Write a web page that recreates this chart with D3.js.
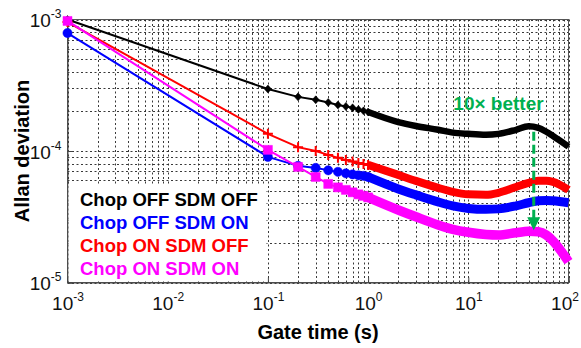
<!DOCTYPE html>
<html>
<head>
<meta charset="utf-8">
<script src="https://cdn.jsdelivr.net/npm/d3@7"></script>
<style>
  body { margin: 0; background: #fff; }
  svg { display: block; font-family: "Liberation Sans", Arial, Helvetica, sans-serif; }
</style>
</head>
<body>
<svg id="chart" width="581" height="348"></svg>
<script>
// gate times (s) and Allan deviation
const tau = [0.001, 0.1, 0.2, 0.3, 0.4, 0.5, 0.6, 0.7, 0.8, 0.9, 1, 2, 3, 5, 7, 10, 15, 20, 30, 40, 50, 60, 70, 100]

const chopOffSdmOff = [1.00e-3, 2.96e-4, 2.58e-4, 2.45e-4, 2.34e-4, 2.24e-4, 2.18e-4, 2.13e-4, 2.07e-4, 2.02e-4, 1.98e-4,
  1.66e-4, 1.55e-4, 1.45e-4, 1.38e-4, 1.35e-4, 1.33e-4, 1.35e-4, 1.45e-4, 1.54e-4, 1.50e-4, 1.40e-4, 1.30e-4, 1.08e-4]
const chopOffSdmOn = [7.89e-4, 9.02e-5, 7.71e-5, 7.44e-5, 7.13e-5, 6.94e-5, 6.76e-5, 6.64e-5, 6.53e-5, 6.47e-5, 6.35e-5,
  5.15e-5, 4.64e-5, 4.10e-5, 3.83e-5, 3.66e-5, 3.60e-5, 3.63e-5, 3.83e-5, 4.04e-5, 4.18e-5, 4.21e-5, 4.18e-5, 4.04e-5]
const chopOnSdmOff = [9.57e-4, 1.35e-4, 1.07e-4, 1.00e-4, 9.34e-5, 8.87e-5, 8.56e-5, 8.33e-5, 8.12e-5, 7.98e-5, 7.84e-5,
  6.58e-5, 5.93e-5, 5.25e-5, 4.89e-5, 4.68e-5, 4.64e-5, 4.81e-5, 5.33e-5, 5.73e-5, 5.93e-5, 5.93e-5, 5.82e-5, 5.06e-5]
const chopOnSdmOn = [9.75e-4, 1.02e-4, 7.57e-5, 6.35e-5, 5.62e-5, 5.29e-5, 5.06e-5, 4.85e-5, 4.68e-5, 4.56e-5, 4.44e-5,
  3.56e-5, 3.16e-5, 2.74e-5, 2.54e-5, 2.41e-5, 2.32e-5, 2.30e-5, 2.39e-5, 2.45e-5, 2.43e-5, 2.30e-5, 2.07e-5, 1.44e-5]

const seriesNames = ['Chop OFF SDM OFF', 'Chop OFF SDM ON', 'Chop ON SDM OFF', 'Chop ON SDM ON']
const xTickValues = [1e-3, 1e-2, 1e-1, 1e0, 1e1, 1e2]
const yTickValues = [1e-5, 1e-4, 1e-3]
const annotationText = '10\u00d7 better'

const width = 581
const height = 348
const margin = { top: 19.5, right: 12.5, bottom: 65.5, left: 67.5 }
const green = '#00b050'

const svg = d3.select('#chart')

const x = d3.scaleLog()
  .domain([1e-3, 1e2])
  .range([margin.left, width - margin.right])

const y = d3.scaleLog()
  .domain([1e-5, 1e-3])
  .range([height - margin.bottom, margin.top])

// minor + major grid positions
const gridX = []
const gridY = []
for (let e = -3; e < 2; e++) for (let m = 1; m < 10; m++) gridX.push(m * Math.pow(10, e))
gridX.push(1e2)
for (let e = -5; e < -3; e++) for (let m = 1; m < 10; m++) gridY.push(m * Math.pow(10, e))
gridY.push(1e-3)

const grid = svg.append('g')
  .attr('class', 'grid')
  .attr('stroke', '#222')
  .attr('stroke-width', 0.9)
  .attr('stroke-dasharray', '2,2.5')

grid.selectAll('.gx')
  .data(gridX)
  .enter().append('line')
  .attr('class', 'gx')
  .attr('x1', d => Math.round(x(d)) + 0.5)
  .attr('x2', d => Math.round(x(d)) + 0.5)
  .attr('y1', y.range()[1])
  .attr('y2', y.range()[0])

grid.selectAll('.gy')
  .data(gridY)
  .enter().append('line')
  .attr('class', 'gy')
  .attr('y1', d => Math.round(y(d)) + 0.5)
  .attr('y2', d => Math.round(y(d)) + 0.5)
  .attr('x1', x.range()[0])
  .attr('x2', x.range()[1])

// box
svg.append('rect')
  .attr('x', x.range()[0])
  .attr('y', y.range()[1])
  .attr('width', x.range()[1] - x.range()[0])
  .attr('height', y.range()[0] - y.range()[1])
  .attr('fill', 'none')
  .attr('stroke', '#555')
  .attr('stroke-width', 1)

// axes, MATLAB style ticks pointing inward
const xAxis = svg.append('g')
  .attr('transform', `translate(0,${y.range()[0]})`)
  .call(d3.axisBottom(x).tickValues(xTickValues).tickSize(-5).tickPadding(14).tickFormat(d => Math.round(Math.log10(d))))

const yAxis = svg.append('g')
  .attr('transform', `translate(${x.range()[0]},0)`)
  .call(d3.axisLeft(y).tickValues(yTickValues).tickSize(-5).tickPadding(6).tickFormat(d => Math.round(Math.log10(d))))

for (const ax of [xAxis, yAxis]) {
  ax.select('.domain').attr('stroke', '#444')
  ax.selectAll('.tick line').attr('stroke', '#444')
}

// turn exponent into 10^e with a superscript
function powerLabel (sel, anchor) {
  sel.each(function () {
    const t = d3.select(this)
    const e = t.text()
    t.text(null)
      .attr('fill', '#111')
      .attr('font-size', 19)
      .attr('text-anchor', anchor)
    t.append('tspan').text('10')
    t.append('tspan').text(e).attr('font-size', 12).attr('dy', '-0.75em')
  })
}
powerLabel(xAxis.selectAll('.tick text').attr('dy', null).attr('y', 27), 'middle')
powerLabel(yAxis.selectAll('.tick text').attr('dy', null).attr('y', 7).attr('x', -6), 'end')

// keep the last x label inside the picture
xAxis.selectAll('.tick text')
  .filter(d => d === 1e2)
  .attr('x', -4)

// series
const series = [
  { name: seriesNames[0], values: chopOffSdmOff, color: '#000000', marker: 'diamond', band: 6.5 },
  { name: seriesNames[1], values: chopOffSdmOn, color: '#0000ff', marker: 'circle', band: 9 },
  { name: seriesNames[2], values: chopOnSdmOff, color: '#ff0000', marker: 'plus', band: 8 },
  { name: seriesNames[3], values: chopOnSdmOn, color: '#ff00ff', marker: 'square', band: 9.5 }
]

const thinLine = d3.line()
  .x(d => x(d.t))
  .y(d => y(d.v))

const bandLine = d3.line()
  .curve(d3.curveMonotoneX)
  .x(d => x(d.t))
  .y(d => y(d.v))

function markerPath (type) {
  if (type === 'diamond') return 'M0,-4L3.6,0L0,4L-3.6,0Z'
  if (type === 'square') return 'M-4.5,-4.5H4.5V4.5H-4.5Z'
  if (type === 'plus') return 'M-5,0H5M0,-5V5'
  return d3.symbol(d3.symbolCircle, Math.PI * 4.6 * 4.6)()
}

const plot = svg.append('g').attr('class', 'series')

series.forEach(s => {
  const pts = tau.map((t, i) => ({ t, v: s.values[i] }))
  const sparse = pts.filter(d => d.t <= 1)
  const dense = pts.filter(d => d.t >= 1)

  const g = plot.append('g')

  g.append('path')
    .datum(sparse)
    .attr('fill', 'none')
    .attr('stroke', s.color)
    .attr('stroke-width', 2)
    .attr('d', thinLine)

  // many overlapping markers at long gate times look like a thick band
  g.append('path')
    .datum(dense)
    .attr('fill', 'none')
    .attr('stroke', s.color)
    .attr('stroke-width', s.band)
    .attr('stroke-linejoin', 'round')
    .attr('d', bandLine)

  g.selectAll('.mk')
    .data(sparse)
    .enter().append('path')
    .attr('class', 'mk')
    .attr('transform', d => `translate(${x(d.t)},${y(d.v)})`)
    .attr('d', markerPath(s.marker))
    .attr('fill', s.marker === 'plus' ? 'none' : s.color)
    .attr('stroke', s.color)
    .attr('stroke-width', s.marker === 'plus' ? 2 : 0.5)
})

// legend
const legend = svg.append('g').attr('class', 'legend')
legend.append('rect')
  .attr('x', x.range()[0] + 1)
  .attr('y', 184)
  .attr('width', 198)
  .attr('height', y.range()[0] - 185)
  .attr('fill', '#fff')

legend.selectAll('text')
  .data(series)
  .enter().append('text')
  .attr('x', 80)
  .attr('y', (d, i) => 206 + i * 23)
  .attr('fill', d => d.color)
  .attr('font-size', 18.5)
  .attr('font-weight', 'bold')
  .text(d => d.name)

// 10x annotation
const arrowT = 45
const ax0 = x(arrowT)
const ay0 = y(1.40e-4)
const ay1 = y(2.50e-5)
svg.append('line')
  .attr('x1', ax0).attr('x2', ax0)
  .attr('y1', ay0).attr('y2', ay1 - 12)
  .attr('stroke', green)
  .attr('stroke-width', 3)
  .attr('stroke-dasharray', '9,4')
svg.append('path')
  .attr('d', `M${ax0 - 6.5},${ay1 - 13}L${ax0 + 6.5},${ay1 - 13}L${ax0},${ay1}Z`)
  .attr('fill', green)

svg.append('text')
  .attr('x', x(20))
  .attr('y', y(2.05e-4))
  .attr('text-anchor', 'middle')
  .attr('fill', green)
  .attr('font-size', 19)
  .attr('font-weight', 'bold')
  .text(annotationText)

// axis titles
svg.append('text')
  .attr('x', (x.range()[0] + x.range()[1]) / 2)
  .attr('y', 339)
  .attr('text-anchor', 'middle')
  .attr('font-size', 20)
  .attr('font-weight', 'bold')
  .attr('fill', '#000')
  .text('Gate time (s)')

svg.append('text')
  .attr('transform', `translate(29,${(y.range()[0] + y.range()[1]) / 2}) rotate(-90)`)
  .attr('text-anchor', 'middle')
  .attr('font-size', 20)
  .attr('font-weight', 'bold')
  .attr('fill', '#000')
  .text('Allan deviation')
</script>
</body>
</html>
